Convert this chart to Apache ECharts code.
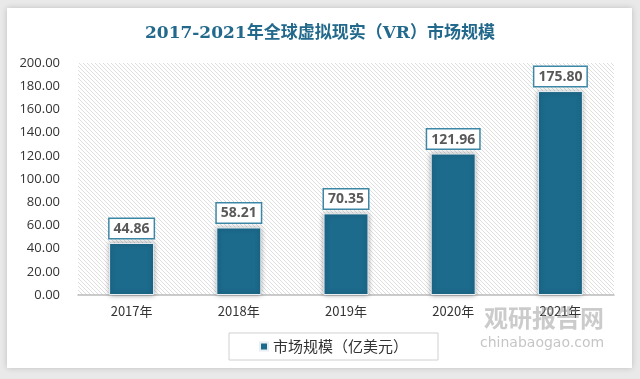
<!DOCTYPE html>
<html><head><meta charset="utf-8">
<script src="https://cdn.jsdelivr.net/npm/echarts@6/dist/echarts.min.js"></script>
<style>html,body{margin:0;padding:0;background:#e9e9e9;}#c{width:640px;height:379px;}</style>
</head><body><div id="c"></div>
<script>
var categories = ['2017年','2018年','2019年','2020年','2021年'];
var values = [44.86, 58.21, 70.35, 121.96, 175.80];
var seriesName = '市场规模（亿美元）';
var titleText = '2017-2021年全球虚拟现实（VR）市场规模';

var pc = document.createElement('canvas');
pc.width = 4; pc.height = 4;
var px = pc.getContext('2d');
px.fillStyle = '#ffffff'; px.fillRect(0,0,4,4);
px.strokeStyle = '#dadada'; px.lineWidth = 0.9;
px.beginPath();
px.moveTo(0,0); px.lineTo(4,4);
px.moveTo(-2,2); px.lineTo(2,6);
px.moveTo(2,-2); px.lineTo(6,2);
px.stroke();

var chart = echarts.init(document.getElementById('c'), null, {renderer:'canvas'});
chart.setOption({
  backgroundColor: '#e9e9e9',
  animation: false,
  graphic: [{
    type: 'rect', z: -10, silent: true,
    shape: {x: 7, y: 8, width: 625, height: 360},
    style: {fill: '#ffffff', shadowBlur: 6, shadowColor: 'rgba(0,0,0,0.18)'}
  },{
    type: 'text', z: 5, silent: true, left: 484, top: 306,
    style: {text: '观研报告网', fill: 'rgba(140,140,140,0.45)', font: 'bold 24px "Noto Sans CJK SC"'}
  },{
    type: 'text', z: 5, silent: true, left: 480, top: 336,
    style: {text: 'chinabaogao.com', fill: 'rgba(140,140,140,0.5)', font: '14px "DejaVu Sans"'}
  }],
  title: {
    text: titleText, left: 'center', top: 20,
    textStyle: {fontFamily: '"DejaVu Serif", "Noto Sans CJK SC"', fontSize: 17, fontWeight: 'bold', color: '#22698c'}
  },
  legend: {
    data: [seriesName], bottom: 19, left: 229,
    itemWidth: 8, itemHeight: 8, icon: 'rect', itemGap: 5,
    borderColor: '#d0d0d0', borderWidth: 1, padding: [6, 30, 6, 30],
    textStyle: {fontFamily: '"Noto Sans CJK SC"', fontSize: 15, color: '#333'}
  },
  grid: {
    left: 78, right: 26, top: 63, bottom: 84, show: true,
    borderWidth: 0, backgroundColor: {image: pc, repeat: 'repeat'}
  },
  xAxis: {
    type: 'category', data: categories,
    axisLine: {lineStyle: {color: '#bbbbbb', width: 1.5}},
    axisTick: {show: false},
    axisLabel: {fontFamily: '"Noto Sans CJK SC"', fontSize: 13, color: '#333', margin: 10}
  },
  yAxis: {
    type: 'value', min: 0, max: 200, interval: 20,
    axisLine: {show: false}, axisTick: {show: false}, splitLine: {show: false},
    axisLabel: {formatter: function(v){return v.toFixed(2);}, fontFamily: '"Open Sans"', fontSize: 13, color: '#333', margin: 18}
  },
  series: [{
    name: seriesName, type: 'bar', data: values, barWidth: 45,
    itemStyle: {color: '#1c6a8c', borderColor: '#e8eef2', borderWidth: 1, shadowBlur: 5, shadowColor: 'rgba(0,0,0,0.35)'},
    label: {
      show: true, position: 'top', distance: 5,
      formatter: function(p){return p.value.toFixed(2);},
      fontFamily: '"Open Sans"', fontWeight: 'bold', fontSize: 14, color: '#595959',
      backgroundColor: '#ffffff', borderColor: '#3d87a6', borderWidth: 1.5,
      padding: [3, 4, 2, 4]
    }
  }]
});
</script></body></html>
